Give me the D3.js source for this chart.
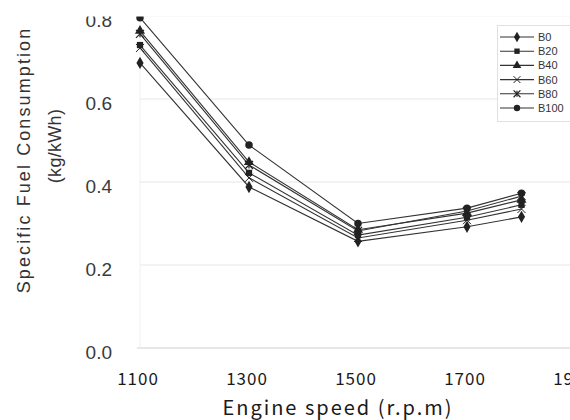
<!DOCTYPE html>
<html><head><meta charset="utf-8">
<script src="https://cdn.jsdelivr.net/npm/d3@7"></script>
<style>
html,body{margin:0;padding:0;background:#fff;}
svg{display:block;}
</style></head>
<body><svg id="c" width="570" height="420"></svg>
<script>
const speeds = [1100, 1300, 1500, 1700, 1800];
const seriesNames = ["B0", "B20", "B40", "B60", "B80", "B100"];
const B0   = [0.687, 0.388, 0.257, 0.292, 0.316];
const B20  = [0.730, 0.422, 0.272, 0.315, 0.345];
const B40  = [0.764, 0.448, 0.285, 0.325, 0.357];
const B60  = [0.723, 0.410, 0.265, 0.308, 0.335];
const B80  = [0.757, 0.441, 0.282, 0.330, 0.366];
const B100 = [0.796, 0.489, 0.300, 0.337, 0.373];
const xTicks = [1100, 1300, 1500, 1700, 1900];
const yTicks = [0.0, 0.2, 0.4, 0.6, 0.8];
const seriesValues = [B0, B20, B40, B60, B80, B100];
const markers = ["diamond", "square", "triangle", "x", "asterisk", "circle"];

const svg = d3.select("#c");
const x = d3.scaleLinear().domain([1100, 1900]).range([140, 576]);
const y = d3.scaleLinear().domain([0, 0.8]).range([348, 16]);

// gridlines
svg.append("g").selectAll("line").data(yTicks.filter(d => d > 0)).join("line")
  .attr("x1", x(1100)).attr("x2", 570).attr("y1", d => y(d)).attr("y2", d => y(d))
  .attr("stroke", "#e6e6e6").attr("stroke-width", 1);
// baseline
svg.append("line").attr("x1", x(1100) - 3).attr("x2", 570).attr("y1", y(0)).attr("y2", y(0))
  .attr("stroke", "#cfcfcf").attr("stroke-width", 1);
svg.append("line").attr("x1", x(1100)).attr("x2", x(1100)).attr("y1", y(0)).attr("y2", 0)
  .attr("stroke", "#f0f0f0").attr("stroke-width", 1);

// y tick labels
svg.append("g").selectAll("text").data(yTicks).join("text")
  .attr("x", 112).attr("y", d => y(d) + 11)
  .attr("text-anchor", "end")
  .attr("font-family", "Liberation Sans, Arial, sans-serif")
  .attr("font-size", 19).attr("fill", "#3a3a3a")
  .text(d => d.toFixed(1));

// x tick labels
svg.append("g").selectAll("text").data(xTicks).join("text")
  .attr("x", d => x(d) - 2).attr("y", 385)
  .attr("text-anchor", "middle")
  .attr("font-family", "Noto Sans CJK JP, sans-serif")
  .attr("font-size", 17).attr("letter-spacing", 1).attr("fill", "#1a1a1a")
  .text(d => d);

// axis titles
svg.append("text").attr("transform", "translate(30,160) rotate(-90)")
  .attr("text-anchor", "middle")
  .attr("font-family", "Liberation Sans, Arial, sans-serif")
  .attr("font-size", 18).attr("letter-spacing", 2.1).attr("fill", "#333")
  .text("Specific Fuel Consumption");
svg.append("text").attr("transform", "translate(61,146) rotate(-90)")
  .attr("text-anchor", "middle")
  .attr("font-family", "Liberation Sans, Arial, sans-serif")
  .attr("font-size", 18).attr("letter-spacing", 0.3).attr("fill", "#333")
  .text("(kg/kWh)");
svg.append("text").attr("x", 338).attr("y", 415)
  .attr("text-anchor", "middle")
  .attr("font-family", "Noto Sans CJK JP, sans-serif")
  .attr("font-size", 20).attr("letter-spacing", 2).attr("fill", "#1a1a1a")
  .text("Engine speed (r.p.m)");

function drawMarker(g, type, cx, cy, s) {
  const col = "#222";
  const t = `translate(${cx},${cy})`;
  if (type === "diamond") {
    g.append("path").attr("d", d3.symbol(d3.symbolDiamond, s * s * 0.9)()).attr("transform", t).attr("fill", col);
  } else if (type === "square") {
    g.append("path").attr("d", d3.symbol(d3.symbolSquare, s * s * 0.8)()).attr("transform", t).attr("fill", col);
  } else if (type === "triangle") {
    g.append("path").attr("d", d3.symbol(d3.symbolTriangle, s * s * 0.9)()).attr("transform", t).attr("fill", col);
  } else if (type === "circle") {
    g.append("path").attr("d", d3.symbol(d3.symbolCircle, s * s * 0.9)()).attr("transform", t).attr("fill", col);
  } else if (type === "x") {
    g.append("path").attr("d", d3.symbol(d3.symbolX, s * s * 0.9)()).attr("transform", t).attr("fill", "none").attr("stroke", col).attr("stroke-width", 1);
  } else if (type === "asterisk") {
    g.append("path").attr("d", d3.symbol(d3.symbolX, s * s * 0.9)()).attr("transform", t).attr("fill", "none").attr("stroke", col).attr("stroke-width", 1.2);
    g.append("line").attr("x1", cx).attr("x2", cx).attr("y1", cy - s / 2).attr("y2", cy + s / 2).attr("stroke", col).attr("stroke-width", 1.2);
  }
}

const line = d3.line().x((d, i) => x(speeds[i])).y(d => y(d));
const plot = svg.append("g");
seriesValues.forEach((vals) => {
  plot.append("path").datum(vals).attr("d", line)
    .attr("fill", "none").attr("stroke", "#333").attr("stroke-width", 1.1);
});
seriesValues.forEach((vals, k) => {
  vals.forEach((v, i) => drawMarker(plot, markers[k], x(speeds[i]), y(v), 7));
});

// the scanned figure is cropped along the top edge
svg.append("rect").attr("x", 0).attr("y", 0).attr("width", 570).attr("height", 16.5).attr("fill", "#fff");

// legend
const lg = svg.append("g");
lg.append("rect").attr("x", 497.5).attr("y", 25.5).attr("width", 80).attr("height", 96)
  .attr("fill", "#fff").attr("stroke", "#e0e0e0");
seriesNames.forEach((n, k) => {
  const ly = 37 + k * 14.2;
  lg.append("line").attr("x1", 500).attr("x2", 534).attr("y1", ly).attr("y2", ly)
    .attr("stroke", "#333").attr("stroke-width", 1.1);
  drawMarker(lg, markers[k], 517, ly, 6);
  lg.append("text").attr("x", 538).attr("y", ly + 4)
    .attr("font-family", "Liberation Sans, Arial, sans-serif")
    .attr("font-size", 11).attr("fill", "#333").text(n);
});
</script>
</body></html>
